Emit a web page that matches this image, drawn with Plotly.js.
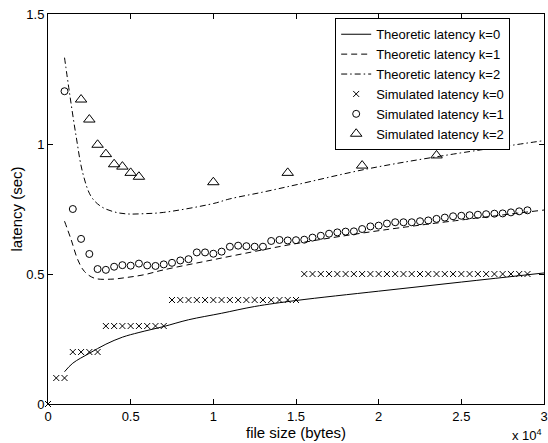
<!DOCTYPE html>
<html>
<head>
<meta charset="utf-8">
<script src="https://cdn.plot.ly/plotly-3.0.1.min.js"></script>
<style>html,body{margin:0;padding:0;background:#fff;}#chart{width:548px;height:443px;}</style>
</head>
<body>
<div id="chart"></div>
<script>
// Theoretic latency curves
var theo0X = [1000,1500,2500,3500,4500,5500,7000,8500,10500,12500,15000,20000,25000,30000];
var theo0Y = [0.124,0.157,0.195,0.230,0.257,0.275,0.298,0.324,0.349,0.375,0.398,0.434,0.469,0.504];

var theo1X = [1000,1400,1800,2200,2800,3800,4800,5800,7000,10000,13000,15000,20500,30000];
var theo1Y = [0.703,0.632,0.555,0.510,0.484,0.480,0.487,0.497,0.516,0.555,0.593,0.617,0.671,0.746];

var theo2X = [1000,1300,1700,2100,2600,3200,4000,4800,5800,7000,10000,11000,13000,15000,19300,24000,30000];
var theo2Y = [1.332,1.197,1.030,0.889,0.799,0.760,0.739,0.731,0.732,0.737,0.771,0.789,0.815,0.843,0.904,0.956,1.013];

// Simulated latency k=0
var sim0X = [0,500,1000,1500,2000,2500,3000,3500,4000,4500,5000,5500,6000,6500,7000,
  7500,8000,8500,9000,9500,10000,10500,11000,11500,12000,12500,13000,13500,14000,14500,15000,
  15500,16000,16500,17000,17500,18000,18500,19000,19500,20000,20500,21000,21500,22000,22500,
  23000,23500,24000,24500,25000,25500,26000,26500,27000,27500,28000,28500,29000];
var sim0Y = [0,0.1,0.1,0.2,0.2,0.2,0.2,0.3,0.3,0.3,0.3,0.3,0.3,0.3,0.3,
  0.4,0.4,0.4,0.4,0.4,0.4,0.4,0.4,0.4,0.4,0.4,0.4,0.4,0.4,0.4,0.4,
  0.5,0.5,0.5,0.5,0.5,0.5,0.5,0.5,0.5,0.5,0.5,0.5,0.5,0.5,0.5,
  0.5,0.5,0.5,0.5,0.5,0.5,0.5,0.5,0.5,0.5,0.5,0.5,0.5];

// Simulated latency k=1
var sim1X = [1000,1500,2000,2500,3000,3500,4000,4500,5000,5500,6000,6500,7000,7500,8000,8500,
  9000,9500,10000,10500,11000,11500,12000,12500,13000,13500,14000,14500,15000,
  15500,16000,16500,17000,17500,18000,18500,19000,19500,20000,20500,21000,21500,22000,22500,
  23000,23500,24000,24500,25000,25500,26000,26500,27000,27500,28000,28500,29000];
var sim1Y = [1.203,0.750,0.635,0.577,0.519,0.516,0.528,0.534,0.532,0.540,0.533,0.531,0.537,0.543,0.552,0.557,
  0.583,0.583,0.578,0.586,0.605,0.609,0.607,0.605,0.605,0.627,0.631,0.629,0.630,
  0.632,0.640,0.647,0.655,0.660,0.663,0.664,0.673,0.683,0.686,0.694,0.699,0.699,0.699,0.703,
  0.706,0.712,0.717,0.722,0.724,0.726,0.728,0.730,0.732,0.733,0.737,0.741,0.745];

// Simulated latency k=2
var sim2X = [2000,2500,3000,3500,4000,4500,5000,5500,10000,14500,19000,23500];
var sim2Y = [1.171,1.094,0.997,0.961,0.922,0.913,0.889,0.874,0.853,0.889,0.917,0.956];

var names = ['Theoretic latency k=0','Theoretic latency k=1','Theoretic latency k=2',
             'Simulated latency k=0','Simulated latency k=1','Simulated latency k=2'];

var xTickVals = [0,5000,10000,15000,20000,25000,30000];
var xTickText = ['0','0.5','1','1.5','2','2.5','3'];
var yTickVals = [0,0.5,1,1.5];
var yTickText = ['0','0.5','1','1.5'];

var FONT = 'Liberation Sans, Arial, Helvetica, sans-serif';

var traces = [
  {x: theo0X, y: theo0Y, name: names[0], mode: 'lines', line: {color: '#000', width: 1, shape: 'spline'}},
  {x: theo1X, y: theo1Y, name: names[1], mode: 'lines', line: {color: '#000', width: 1, shape: 'spline', dash: '6px,4px'}},
  {x: theo2X, y: theo2Y, name: names[2], mode: 'lines', line: {color: '#000', width: 1, shape: 'spline', dash: '6px,3px,1.5px,3px'}},
  {x: sim0X, y: sim0Y, name: names[3], mode: 'markers', cliponaxis: false,
   marker: {symbol: 'x-thin-open', size: 6, color: '#000', line: {color: '#000', width: 1}}},
  {x: sim1X, y: sim1Y, name: names[4], mode: 'markers', cliponaxis: false,
   marker: {symbol: 'circle-open', size: 7, color: '#000', line: {color: '#000', width: 1}}},
  {x: sim2X, y: sim2Y, name: names[5], mode: 'markers', cliponaxis: false,
   marker: {symbol: 'triangle-up-open', size: 10, color: '#000', line: {color: '#000', width: 1}}}
];

var layout = {
  width: 548, height: 443,
  margin: {l: 48, r: 4, t: 14, b: 39, pad: 0},
  paper_bgcolor: '#fff', plot_bgcolor: '#fff',
  font: {family: FONT, size: 13, color: '#000'},
  showlegend: true,
  legend: {x: 0.579, y: 0.989, xanchor: 'left', yanchor: 'top',
           bgcolor: '#fff', bordercolor: '#000', borderwidth: 1,
           entrywidth: 140, entrywidthmode: 'pixels',
           font: {family: FONT, size: 13, color: '#000'}, tracegroupgap: 0},
  xaxis: {range: [0, 30000], tickvals: xTickVals, ticktext: xTickText,
          showline: true, mirror: 'ticks', linecolor: '#000', linewidth: 1,
          ticks: 'inside', ticklen: 5, tickcolor: '#000', showgrid: false, zeroline: false,
          tickfont: {family: FONT, size: 13, color: '#000'},
          title: {text: 'file size (bytes)', font: {family: FONT, size: 15, color: '#000'}, standoff: 4}},
  yaxis: {range: [0, 1.5], tickvals: yTickVals, ticktext: yTickText,
          showline: true, mirror: 'ticks', linecolor: '#000', linewidth: 1,
          ticks: 'inside', ticklen: 5, tickcolor: '#000', showgrid: false, zeroline: false,
          tickfont: {family: FONT, size: 13, color: '#000'},
          title: {text: 'latency (sec)', font: {family: FONT, size: 15, color: '#000'}, standoff: 0}},
  annotations: [{
    xref: 'paper', yref: 'paper', x: 1, y: -0.105, xanchor: 'right', yanchor: 'bottom',
    text: 'x 10<sup>4</sup>', showarrow: false, font: {family: FONT, size: 13, color: '#000'}
  }]
};

Plotly.newPlot('chart', traces, layout, {displayModeBar: false, staticPlot: true});
</script>
</body>
</html>
